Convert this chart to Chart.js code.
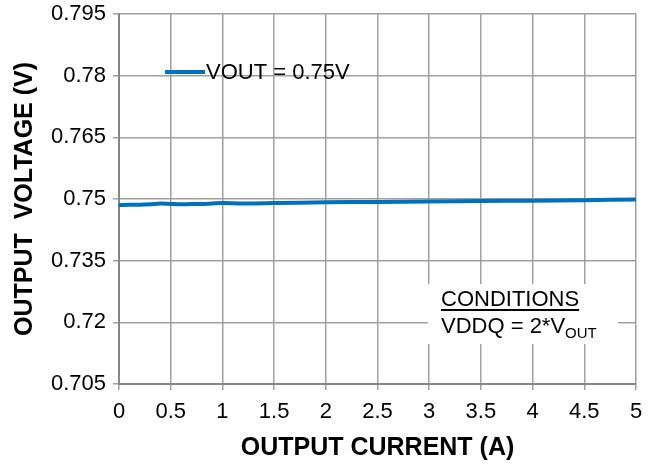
<!DOCTYPE html>
<html>
<head>
<meta charset="utf-8">
<script src="https://cdn.jsdelivr.net/npm/chart.js@4/dist/chart.umd.min.js"></script>
<style>
  body { margin: 0; background: #fff; }
  #wrap { width: 655px; height: 466px; }
</style>
</head>
<body>
<div id="wrap"><canvas id="myChart" width="655" height="466"></canvas></div>
<script>
// output current (A)
const currents = [0, 0.1, 0.2, 0.3, 0.4, 0.5, 0.6, 0.7, 0.8, 0.9, 1.0, 1.2, 1.5, 2.0, 2.5, 3.0, 3.5, 4.0, 4.5, 5.0];
// output voltage (V), VOUT = 0.75V
const vout = [0.7485, 0.7486, 0.7486, 0.7487, 0.7489, 0.7488, 0.7487, 0.7488, 0.7488, 0.7489, 0.7490, 0.7489, 0.7490, 0.7492, 0.7493, 0.7494, 0.7495, 0.7496, 0.7497, 0.7499];
const yTicks = [0.705, 0.72, 0.735, 0.75, 0.765, 0.78, 0.795];
const seriesLabel = 'VOUT = 0.75V';

const FONT = '"Liberation Sans", Arial, sans-serif';

// legend and conditions box drawn inside the plot area
const overlay = {
    id: 'overlay',
    afterDraw(chart) {
        const c = chart.ctx;
        c.save();
        // legend
        c.strokeStyle = '#0070c0';
        c.lineWidth = 4;
        c.beginPath();
        c.moveTo(165, 72);
        c.lineTo(205, 72);
        c.stroke();
        c.fillStyle = '#000';
        c.font = '22px ' + FONT;
        c.textBaseline = 'middle';
        c.fillText(seriesLabel, 206, 73);

        // conditions
        c.fillStyle = '#fff';
        c.fillRect(428, 284, 190, 60);
        c.fillStyle = '#000';
        c.font = '22px ' + FONT;
        c.textBaseline = 'alphabetic';
        c.fillText('CONDITIONS', 441, 306);
        const w = c.measureText('CONDITIONS').width;
        c.fillRect(441, 309, w, 2);
        c.fillText('VDDQ = 2*V', 441, 333);
        const w2 = c.measureText('VDDQ = 2*V').width;
        c.font = '15px ' + FONT;
        c.fillText('OUT', 441 + w2, 338);
        c.restore();
    }
};

new Chart(document.getElementById('myChart'), {
    type: 'line',
    data: {
        datasets: [{
            label: seriesLabel,
            data: currents.map((x, i) => ({ x: x, y: vout[i] })),
            borderColor: '#0070c0',
            borderWidth: 4,
            pointRadius: 0,
            tension: 0.3
        }]
    },
    options: {
        responsive: false,
        animation: false,
        layout: { padding: { top: 14, right: 19, left: 0, bottom: 0 } },
        plugins: {
            legend: { display: false },
            tooltip: { enabled: false }
        },
        scales: {
            x: {
                type: 'linear',
                min: 0,
                max: 5,
                afterFit(s) { s.height = 82; s.paddingLeft = 0; s.paddingRight = 0; },
                ticks: {
                    stepSize: 0.5,
                    color: '#000',
                    font: { family: FONT, size: 22 },
                    padding: 9,
                    maxRotation: 0,
                    callback: v => String(+v.toFixed(1))
                },
                grid: { color: '#a0a0a0', lineWidth: 1.5, tickLength: 6 },
                border: { color: '#868686', width: 2 },
                title: {
                    display: true,
                    text: 'OUTPUT CURRENT (A)',
                    color: '#000',
                    font: { family: FONT, size: 25, weight: 'bold' },
                    padding: { top: 2, bottom: 3 }
                }
            },
            y: {
                type: 'linear',
                min: 0.705,
                max: 0.795,
                afterFit(s) { s.width = 119; s.paddingTop = 0; s.paddingBottom = 0; },
                afterBuildTicks(s) { s.ticks = yTicks.map(v => ({ value: v })); },
                ticks: {
                    color: '#000',
                    font: { family: FONT, size: 22 },
                    padding: 7,
                    callback: v => String(+v.toFixed(3))
                },
                grid: { color: '#a0a0a0', lineWidth: 1.5, tickLength: 6 },
                border: { color: '#868686', width: 2 },
                title: {
                    display: true,
                    text: 'OUTPUT  VOLTAGE (V)',
                    color: '#000',
                    font: { family: FONT, size: 25, weight: 'bold' },
                    padding: { top: 10, bottom: 2 }
                }
            }
        }
    },
    plugins: [overlay]
});
</script>
</body>
</html>
